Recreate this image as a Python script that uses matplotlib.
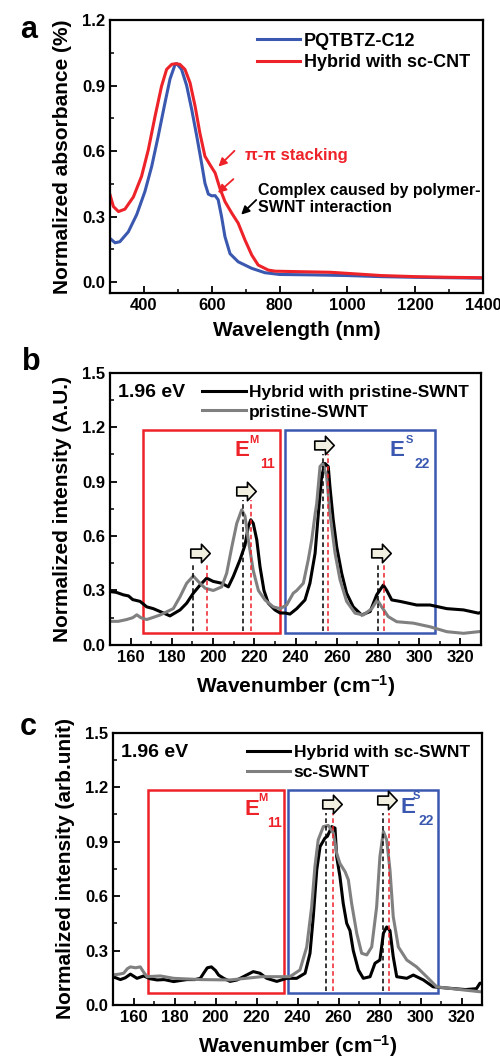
import numpy as np
import matplotlib
matplotlib.use("Agg")
import matplotlib.pyplot as plt
from matplotlib.path import Path
from matplotlib.ticker import MultipleLocator

plt.rcParams['font.family'] = ['Liberation Sans', 'DejaVu Sans']
plt.rcParams['font.weight'] = 'bold'
plt.rcParams['mathtext.fontset'] = 'custom'
plt.rcParams['mathtext.rm'] = 'Liberation Sans:bold'
plt.rcParams['mathtext.bf'] = 'Liberation Sans:bold'
plt.rcParams['mathtext.default'] = 'rm'

#########################################################
# panel a : UV-vis absorbance
wl_blue = [300, 315, 329, 354, 379, 403, 423, 442, 462, 477, 492, 497, 511, 526, 541, 556,
           570, 580, 590, 600, 610, 619, 629, 639, 654, 678, 718, 757, 800, 900, 1000,
           1100, 1200, 1300, 1400]
abs_blue = [0.20, 0.18, 0.185, 0.23, 0.31, 0.415, 0.53, 0.667, 0.82, 0.93, 0.997, 1.0,
            0.974, 0.90, 0.79, 0.667, 0.545, 0.453, 0.403, 0.395, 0.396, 0.377, 0.30, 0.208,
            0.13, 0.093, 0.063, 0.043, 0.035, 0.033, 0.03, 0.025, 0.022, 0.02, 0.018]
wl_red = [300, 310, 325, 344, 369, 393, 413, 433, 452, 467, 482, 494, 506, 521, 536, 551,
          565, 580, 595, 610, 624, 639, 659, 678, 698, 718, 737, 767, 787, 850, 950, 1000,
          1100, 1200, 1300, 1400]
abs_red = [0.40, 0.346, 0.323, 0.334, 0.39, 0.484, 0.606, 0.76, 0.897, 0.974, 0.997, 1.0,
           0.997, 0.974, 0.913, 0.805, 0.683, 0.576, 0.537, 0.50, 0.43, 0.369, 0.316, 0.27,
           0.193, 0.124, 0.078, 0.055, 0.05, 0.048, 0.045, 0.04, 0.03, 0.025, 0.022, 0.02]

#########################################################
# panel b : Raman RBM, hybrid with pristine-SWNT
wn_b_black = [150, 153, 156.5, 159, 161, 164.6, 167.8, 171, 174.3, 179.1, 184, 187.2,
              190.4, 193.7, 196.9, 200.1, 204.2, 207.4, 209.8, 213.1, 215.5, 217.1, 218.3,
              219.5, 221.2, 222.8, 224.7, 226.8, 230, 232.5, 235, 237.3, 240.6, 244.6, 247,
              249.5, 251.1, 252.7, 254.3, 255.9, 256.7, 258.3, 260, 262.4, 264.8, 268,
              272.1, 276.2, 279.4, 282.6, 284.3, 286.7, 290.7, 298.8, 305.3, 313.4, 321.5,
              328.8, 330]
int_b_black = [0.294, 0.29, 0.276, 0.27, 0.25, 0.24, 0.21, 0.20, 0.184, 0.16, 0.193, 0.23,
               0.285, 0.33, 0.368, 0.35, 0.34, 0.32, 0.377, 0.47, 0.55, 0.652, 0.69, 0.67,
               0.58, 0.43, 0.30, 0.23, 0.193, 0.176, 0.176, 0.17, 0.20, 0.248, 0.34, 0.505,
               0.726, 0.93, 1.0, 0.983, 0.873, 0.69, 0.54, 0.395, 0.285, 0.21, 0.165, 0.184,
               0.276, 0.33, 0.30, 0.248, 0.24, 0.22, 0.22, 0.20, 0.193, 0.175, 0.18]
wn_b_gray = [150, 154, 158.1, 161, 163, 165, 167.8, 170.5, 174.3, 180.7, 184, 187.2, 190.4,
             192.8, 196.1, 200.1, 204.2, 206.6, 209.1, 211.5, 213.9, 215.5, 217.1, 219.5,
             222, 225.2, 229.2, 232.5, 235.7, 238.9, 240.6, 243.8, 246.2, 247.9, 249.5,
             250.3, 251.9, 253.2, 255.1, 256.7, 259.2, 261.6, 264.8, 268.9, 272.9, 277,
             279.7, 281.8, 285, 289.1, 297.2, 305.3, 313.4, 321.5, 328.8, 330]
int_b_gray = [0.13, 0.13, 0.14, 0.15, 0.166, 0.15, 0.14, 0.15, 0.165, 0.20, 0.266, 0.34,
              0.38, 0.35, 0.313, 0.30, 0.32, 0.395, 0.54, 0.67, 0.745, 0.71, 0.58, 0.41,
              0.30, 0.248, 0.21, 0.20, 0.22, 0.285, 0.30, 0.34, 0.47, 0.58, 0.72, 0.78,
              0.983, 1.0, 0.93, 0.726, 0.505, 0.36, 0.24, 0.175, 0.165, 0.20, 0.248, 0.21,
              0.156, 0.128, 0.12, 0.10, 0.073, 0.064, 0.073, 0.074]
b_black_peaks = [190.5, 214.3, 253.3, 280]
b_red_peaks = [197, 218.5, 256, 283]
b_peak_tops = [0.44, 0.80, 1.05, 0.44]
b_arrow_x = [193.7, 216, 254, 281.5]
b_arrow_y = [0.506, 0.85, 1.10, 0.506]

#########################################################
# panel c : Raman RBM, hybrid with sc-SWNT
wn_c_black = [150, 153.6, 156, 158.5, 161.7, 165, 168, 171.5, 175, 179.6, 183, 186, 190,
              192.6, 194.5, 196, 198, 200, 201.5, 204, 207.1, 210.5, 213.6, 216, 218.4,
              221.7, 225, 229.9, 234.7, 239.6, 243.7, 246.1, 247.7, 249.4, 251, 253.4,
              254.6, 256.7, 258.3, 259.1, 260.7, 262.3, 264, 265.6, 267.2, 269.7, 272.1,
              275.4, 277.8, 280.2, 281.9, 283.5, 285.1, 286.7, 288.4, 293.3, 296.5, 301.4,
              306.2, 314.3, 322, 327.3, 329, 330]
int_c_black = [0.156, 0.14, 0.15, 0.17, 0.147, 0.16, 0.145, 0.138, 0.14, 0.129, 0.135,
               0.14, 0.14, 0.147, 0.18, 0.205, 0.21, 0.19, 0.165, 0.147, 0.13, 0.138, 0.156,
               0.17, 0.184, 0.175, 0.147, 0.13, 0.147, 0.147, 0.175, 0.285, 0.487, 0.745,
               0.873, 0.92, 0.93, 0.983, 0.975, 0.818, 0.708, 0.56, 0.45, 0.41, 0.30, 0.193,
               0.147, 0.156, 0.23, 0.248, 0.395, 0.43, 0.41, 0.266, 0.156, 0.147, 0.165,
               0.138, 0.10, 0.092, 0.085, 0.09, 0.12, 0.12]
wn_c_gray = [150, 153, 155.2, 157, 158.5, 161, 163.3, 165, 166.6, 173.1, 179.6, 192.6,
             207.1, 222.5, 236.3, 241.2, 244.5, 246.9, 248.5, 250.1, 252.6, 255, 257.5,
             259.1, 260.7, 263.2, 264.8, 266.4, 268.9, 271.3, 273.8, 276.2, 278.6, 280.2,
             281.9, 283.5, 285.1, 286.7, 289.2, 293.3, 298.1, 303, 307.9, 320.9, 329, 330]
int_c_gray = [0.166, 0.17, 0.175, 0.20, 0.21, 0.205, 0.21, 0.18, 0.156, 0.16, 0.147, 0.14,
              0.138, 0.156, 0.156, 0.193, 0.32, 0.54, 0.763, 0.91, 0.983, 0.99, 0.947,
              0.837, 0.78, 0.735, 0.69, 0.56, 0.395, 0.285, 0.276, 0.32, 0.54, 0.818, 0.956,
              0.91, 0.745, 0.487, 0.32, 0.248, 0.21, 0.156, 0.10, 0.083, 0.073, 0.073]
c_black_peaks = [254.1, 281.7]
c_red_peaks = [257.2, 284.8]
c_peak_tops = [1.06, 1.06]
c_arrow_x = [256.6, 283.6]
c_arrow_y = [1.11, 1.13]

BLUE = "#3a58b0"
RED = "#ee2229"
GRAY = "#808080"

# block arrow shape used to mark peak shifts
arrowPath = Path([(-1, -0.45), (0.1, -0.45), (0.1, -0.95), (1, 0), (0.1, 0.95),
                  (0.1, 0.45), (-1, 0.45), (-1, -0.45)],
                 [Path.MOVETO] + [Path.LINETO] * 6 + [Path.CLOSEPOLY])


def styleAxes(ax):
    for s in ax.spines.values():
        s.set_linewidth(1.6)
    ax.tick_params(which='both', direction='in', top=False, right=False, labelsize=12)
    ax.tick_params(which='major', length=5, width=1.3)
    ax.tick_params(which='minor', length=3, width=1.1)
    for lab in ax.get_xticklabels() + ax.get_yticklabels():
        lab.set_fontweight('bold')


# E label with separate super/subscript, as drawn in the original
def bandLabel(ax, x, y, sup, sub, color, supX, subX):
    ax.text(x, y, "E", color=color, fontsize=16, va='center')
    ax.text(supX, y + 0.06, sup, color=color, fontsize=8, va='center')
    ax.text(subX, y - 0.075, sub, color=color, fontsize=10, va='center')


def ramanPanel(ax, wnK, intK, wnG, intG, labels, blackPk, redPk, tops, arX, arY,
               redBox, blueBox, ylab):
    ax.plot(wnK, intK, color='black', lw=2.2, label=labels[0])
    ax.plot(wnG, intG, color=GRAY, lw=2.2, label=labels[1])
    # E11 and E22 windows
    ax.add_patch(plt.Rectangle((redBox[0], 0.065), redBox[1] - redBox[0], 1.12,
                               fill=False, ec=RED, lw=1.8))
    ax.add_patch(plt.Rectangle((blueBox[0], 0.065), blueBox[1] - blueBox[0], 1.12,
                               fill=False, ec=BLUE, lw=1.8))
    for xk, xr, t in zip(blackPk, redPk, tops):
        ax.plot([xk, xk], [0.075, t], color='black', ls='--', lw=1.1, dashes=(3, 2))
        ax.plot([xr, xr], [0.075, t], color=RED, ls='--', lw=1.1, dashes=(3, 2))
    ax.plot(arX, arY, ls='none', marker=arrowPath, ms=14, mfc='#f2f0e0', mec='black', mew=1.2)
    ax.text(154, 1.39, "1.96 eV", fontsize=14, fontweight='bold', va='center')
    ax.set_xlim(150, 330)
    ax.set_ylim(0, 1.5)
    ax.xaxis.set_major_locator(MultipleLocator(20))
    ax.xaxis.set_minor_locator(MultipleLocator(10))
    ax.yaxis.set_major_locator(MultipleLocator(0.3))
    ax.yaxis.set_minor_locator(MultipleLocator(0.15))
    ax.set_xlabel(r"Wavenumber (cm$^{-1}$)", fontsize=15, fontweight='bold', labelpad=6)
    ax.set_ylabel(ylab, fontsize=15, fontweight='bold', labelpad=7)
    ax.legend(loc='upper right', bbox_to_anchor=(1.0, 1.0), frameon=False, fontsize=12.5,
              handlelength=2.5, handletextpad=0.2, labelspacing=0.25, borderaxespad=0.3)
    styleAxes(ax)


fig = plt.figure(figsize=(5, 10.59), dpi=100)

#########################################################
# (a)
axA = fig.add_axes([0.22, 0.7233, 0.746, 0.2578])
axA.plot(wl_blue, abs_blue, color=BLUE, lw=2.2, label="PQTBTZ-C12")
axA.plot(wl_red, abs_red, color=RED, lw=2.2, label="Hybrid with sc-CNT")
axA.set_xlim(300, 1400)
axA.set_ylim(-0.05, 1.2)
axA.xaxis.set_major_locator(MultipleLocator(200))
axA.xaxis.set_minor_locator(MultipleLocator(100))
axA.yaxis.set_major_locator(MultipleLocator(0.3))
axA.yaxis.set_minor_locator(MultipleLocator(0.15))
axA.set_xlabel("Wavelength (nm)", fontsize=15, fontweight='bold', labelpad=6)
axA.set_ylabel("Normalized absorbance (%)", fontsize=15, fontweight='bold', labelpad=7)
axA.legend(loc='upper right', bbox_to_anchor=(1.0, 1.0), frameon=False, fontsize=13,
           handlelength=2.4, handletextpad=0.2, labelspacing=0.25, borderaxespad=0.3)
axA.text(698, 0.58, "π-π stacking", color=RED, fontsize=12, fontweight='bold', va='center')
axA.annotate("", xy=(614, 0.52), xytext=(673, 0.61),
             arrowprops=dict(arrowstyle='-|>', color=RED, lw=1.3, mutation_scale=12))
axA.annotate("", xy=(612, 0.40), xytext=(670, 0.48),
             arrowprops=dict(arrowstyle='-|>', color=RED, lw=1.3, mutation_scale=12))
axA.text(737, 0.38, "Complex caused by polymer-\nSWNT interaction", fontsize=11.5,
         fontweight='bold', va='center', linespacing=1.15)
axA.annotate("", xy=(681, 0.30), xytext=(737, 0.385),
             arrowprops=dict(arrowstyle='-|>', color='black', lw=1.3, mutation_scale=12))
styleAxes(axA)

#########################################################
# (b)
axB = fig.add_axes([0.22, 0.391, 0.742, 0.257])
ramanPanel(axB, wn_b_black, int_b_black, wn_b_gray, int_b_gray,
           ["Hybrid with pristine-SWNT", "pristine-SWNT"],
           b_black_peaks, b_red_peaks, b_peak_tops, b_arrow_x, b_arrow_y,
           (166, 232.5), (234.7, 307.5), "Normalized intensity (A.U.)")
bandLabel(axB, 210.5, 1.07, "M", "11", RED, 217.8, 222.8)
bandLabel(axB, 285.8, 1.07, "S", "22", BLUE, 293.5, 297.5)

#########################################################
# (c)
axC = fig.add_axes([0.226, 0.051, 0.738, 0.257])
ramanPanel(axC, wn_c_black, int_c_black, wn_c_gray, int_c_gray,
           ["Hybrid with sc-SWNT", "sc-SWNT"],
           c_black_peaks, c_red_peaks, c_peak_tops, c_arrow_x, c_arrow_y,
           (167.1, 233.6), (235.4, 308.5), "Normalized intensity (arb.unit)")
bandLabel(axC, 214.3, 1.08, "M", "11", RED, 220.8, 225.3)
bandLabel(axC, 290, 1.09, "S", "22", BLUE, 296.3, 299.2)

# panel letters
fig.text(0.04, 1 - 30 / 1059, "a", fontsize=22, fontweight='bold', va='center')
fig.text(0.044, 1 - 362 / 1059, "b", fontsize=22, fontweight='bold', va='center')
fig.text(0.04, 1 - 727 / 1059, "c", fontsize=22, fontweight='bold', va='center')

fig.savefig("out.png", dpi=100)
